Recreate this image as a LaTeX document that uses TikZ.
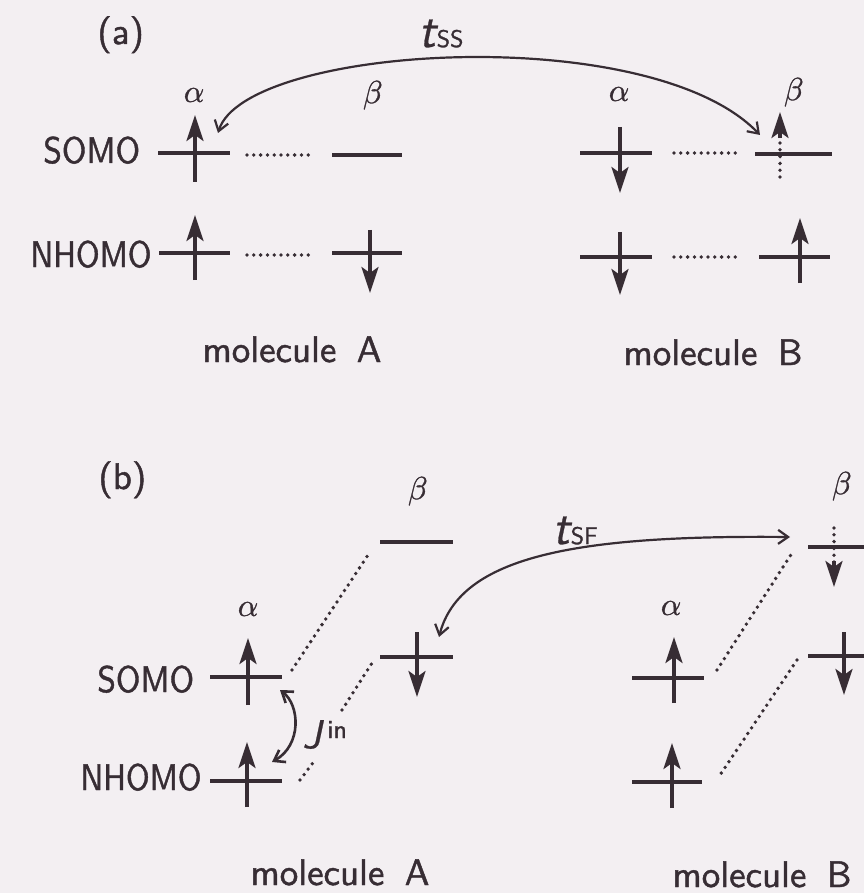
\documentclass[tikz,border=0pt]{standalone}
\usepackage{graphicx}
\usepackage{fontspec}
\newfontfamily\lms{lmsans10-regular.otf}[FakeBold=1.2]
\newfontfamily\lmso{lmsans10-oblique.otf}[FakeBold=0.6]
\newfontfamily\lmm{latinmodern-math.otf}[FakeBold=1.0]
\usetikzlibrary{arrows.meta}
\definecolor{ink}{RGB}{55,45,52}
\definecolor{bg}{RGB}{243,239,242}
\tikzset{
  lbl/.style={inner sep=0pt, text=ink, font=\fontsize{18.5}{20}\selectfont\lms},
  grk/.style={inner sep=0pt, text=ink, font=\fontsize{16}{16}\selectfont\lmm},
  level/.style={draw=ink, line width=1.8pt},
  elec/.style={draw=ink, line width=1.7pt, -{Stealth[length=13pt,width=8.5pt,inset=3pt]}},
  ehead/.style={draw=ink, line width=1.7pt, -{Stealth[length=13pt,width=8.5pt,inset=3pt]}, shorten <=-0.1pt},
  dots/.style={draw=ink, line width=1.9pt, line cap=round, dash pattern=on 0pt off 3.4pt},
  hop/.style={draw=ink, line width=1.1pt, {Straight Barb[length=5pt,width=7pt]}-{Straight Barb[length=5pt,width=7pt]}},
}
\begin{document}
\begin{tikzpicture}[x=0.5pt,y=-0.5pt]
\fill[bg] (0,0) rectangle (864,893);
\useasboundingbox (0,0) rectangle (864,893);

% ---------------- panel (a) ----------------
\node[lbl, anchor=base west] (pa) at (97,44) {(a)};
\node[lbl, anchor=base west] (somoa) at (43,163) {\scalebox{0.9}[1]{SOMO}};
\node[lbl, anchor=base west] (nhomoa) at (30,267) {\scalebox{0.87}[1]{NHOMO}};
\node[lbl, anchor=base west] (molAa) at (202,362) {molecule\hspace{0.55em}A};
\node[lbl, anchor=base west] (molBa) at (623,365) {molecule\hspace{0.55em}B};
\node[grk] (alAa) at (194,95) {𝛼};
\node[grk] (beAa) at (372,95) {𝛽};
\node[grk] (alBa) at (619,94) {𝛼};
\node[grk] (beBa) at (793,92) {𝛽};
\node[lbl, anchor=base west] (tss) at (418,47)
  {{\fontsize{24}{24}\selectfont\lmso t}\hspace{0.5pt}{\fontsize{12}{12}\selectfont SS}};

% molecule A
\draw[level] (158,153) -- (230,153);
\draw[level] (332,155) -- (402,155);
\draw[dots] (247,155) -- (312,155);
\draw[level] (159,253) -- (230,253);
\draw[level] (332,253) -- (402,253);
\draw[dots] (247,255) -- (312,255);
\draw[elec] (195,182) -- (195,115);
\draw[elec] (195,280) -- (195,215);
\draw[elec] (370,230) -- (370,293);
% molecule B
\draw[level] (580,153) -- (652,153);
\draw[dots] (674,153) -- (737,153);
\draw[level] (755,154) -- (832,154);
\draw[level] (580,257) -- (652,257);
\draw[dots] (674,257) -- (737,257);
\draw[level] (759,257) -- (830,257);
\draw[elec] (620,127) -- (620,193);
\draw[dots] (780,177) -- (780,130);
\draw[ehead] (780,138) -- (780,112);
\draw[elec] (620,232) -- (620,295);
\draw[elec] (800,283) -- (800,218);
% t_SS hop
\coordinate (ssL) at (218,133);
\coordinate (ssR) at (760,135);
\draw[hop] (ssL) .. controls (245,45) and (650,20) .. (ssR);

% ---------------- panel (b) ----------------
\node[lbl, anchor=base west] (pb) at (98,489) {(b)};
\node[lbl, anchor=base west] (somob) at (97,692) {\scalebox{0.9}[1]{SOMO}};
\node[lbl, anchor=base west] (nhomob) at (80,790) {\scalebox{0.87}[1]{NHOMO}};
\node[lbl, anchor=base west] (molAb) at (250,885) {molecule\hspace{0.55em}A};
\node[lbl, anchor=base west] (molBb) at (672,887) {molecule\hspace{0.55em}B};
\node[grk] (beAb) at (417,491) {𝛽};
\node[grk] (alAb) at (248,609) {𝛼};
\node[grk] (alBb) at (671,608) {𝛼};
\node[grk] (beBb) at (841,486) {𝛽};
\node[lbl, anchor=base west] (tsf) at (552,544)
  {{\fontsize{24}{24}\selectfont\lmso t}\hspace{0.5pt}{\fontsize{12}{12}\selectfont SF}};
\node[lbl, anchor=base west] (jin) at (302,748)
  {{\fontsize{20}{20}\selectfont\lmso J}\hspace{3pt}\raisebox{5pt}{\fontsize{13}{13}\selectfont in}};

% molecule A
\draw[level] (380,542) -- (453,542);
\draw[level] (380,657) -- (453,657);
\draw[level] (210,677) -- (282,677);
\draw[level] (210,781) -- (282,781);
\draw[dots] (292,670) -- (370,552);
\draw[dots] (342,710) -- (372,663);
\draw[dots] (300,780) -- (315,760);
\draw[elec] (248,705) -- (248,638);
\draw[elec] (247,807) -- (247,742);
\draw[elec] (417,632) -- (417,697);
% J^in
\coordinate (jT) at (280,690);
\coordinate (jB) at (272,762);
\draw[hop, line width=1.3pt] (jT) .. controls (300,705) and (302,745) .. (jB);

% molecule B
\draw[level] (808,547) -- (864,547);
\draw[level] (808,656) -- (864,656);
\draw[level] (632,678) -- (704,678);
\draw[level] (632,782) -- (702,782);
\draw[dots] (717,670) -- (792,553);
\draw[dots] (797,660) -- (720,775);
\draw[dots] (834,528) -- (834,568);
\draw[ehead] (834,561) -- (834,587);
\draw[elec] (844,632) -- (844,695);
\draw[elec] (674,703) -- (674,637);
\draw[elec] (672,808) -- (672,743);
% t_SF hop
\coordinate (sfL) at (439,637);
\coordinate (sfR) at (790,537);
\draw[hop] (sfL) .. controls (460,555) and (580,535) .. (sfR);
\end{tikzpicture}
\end{document}
